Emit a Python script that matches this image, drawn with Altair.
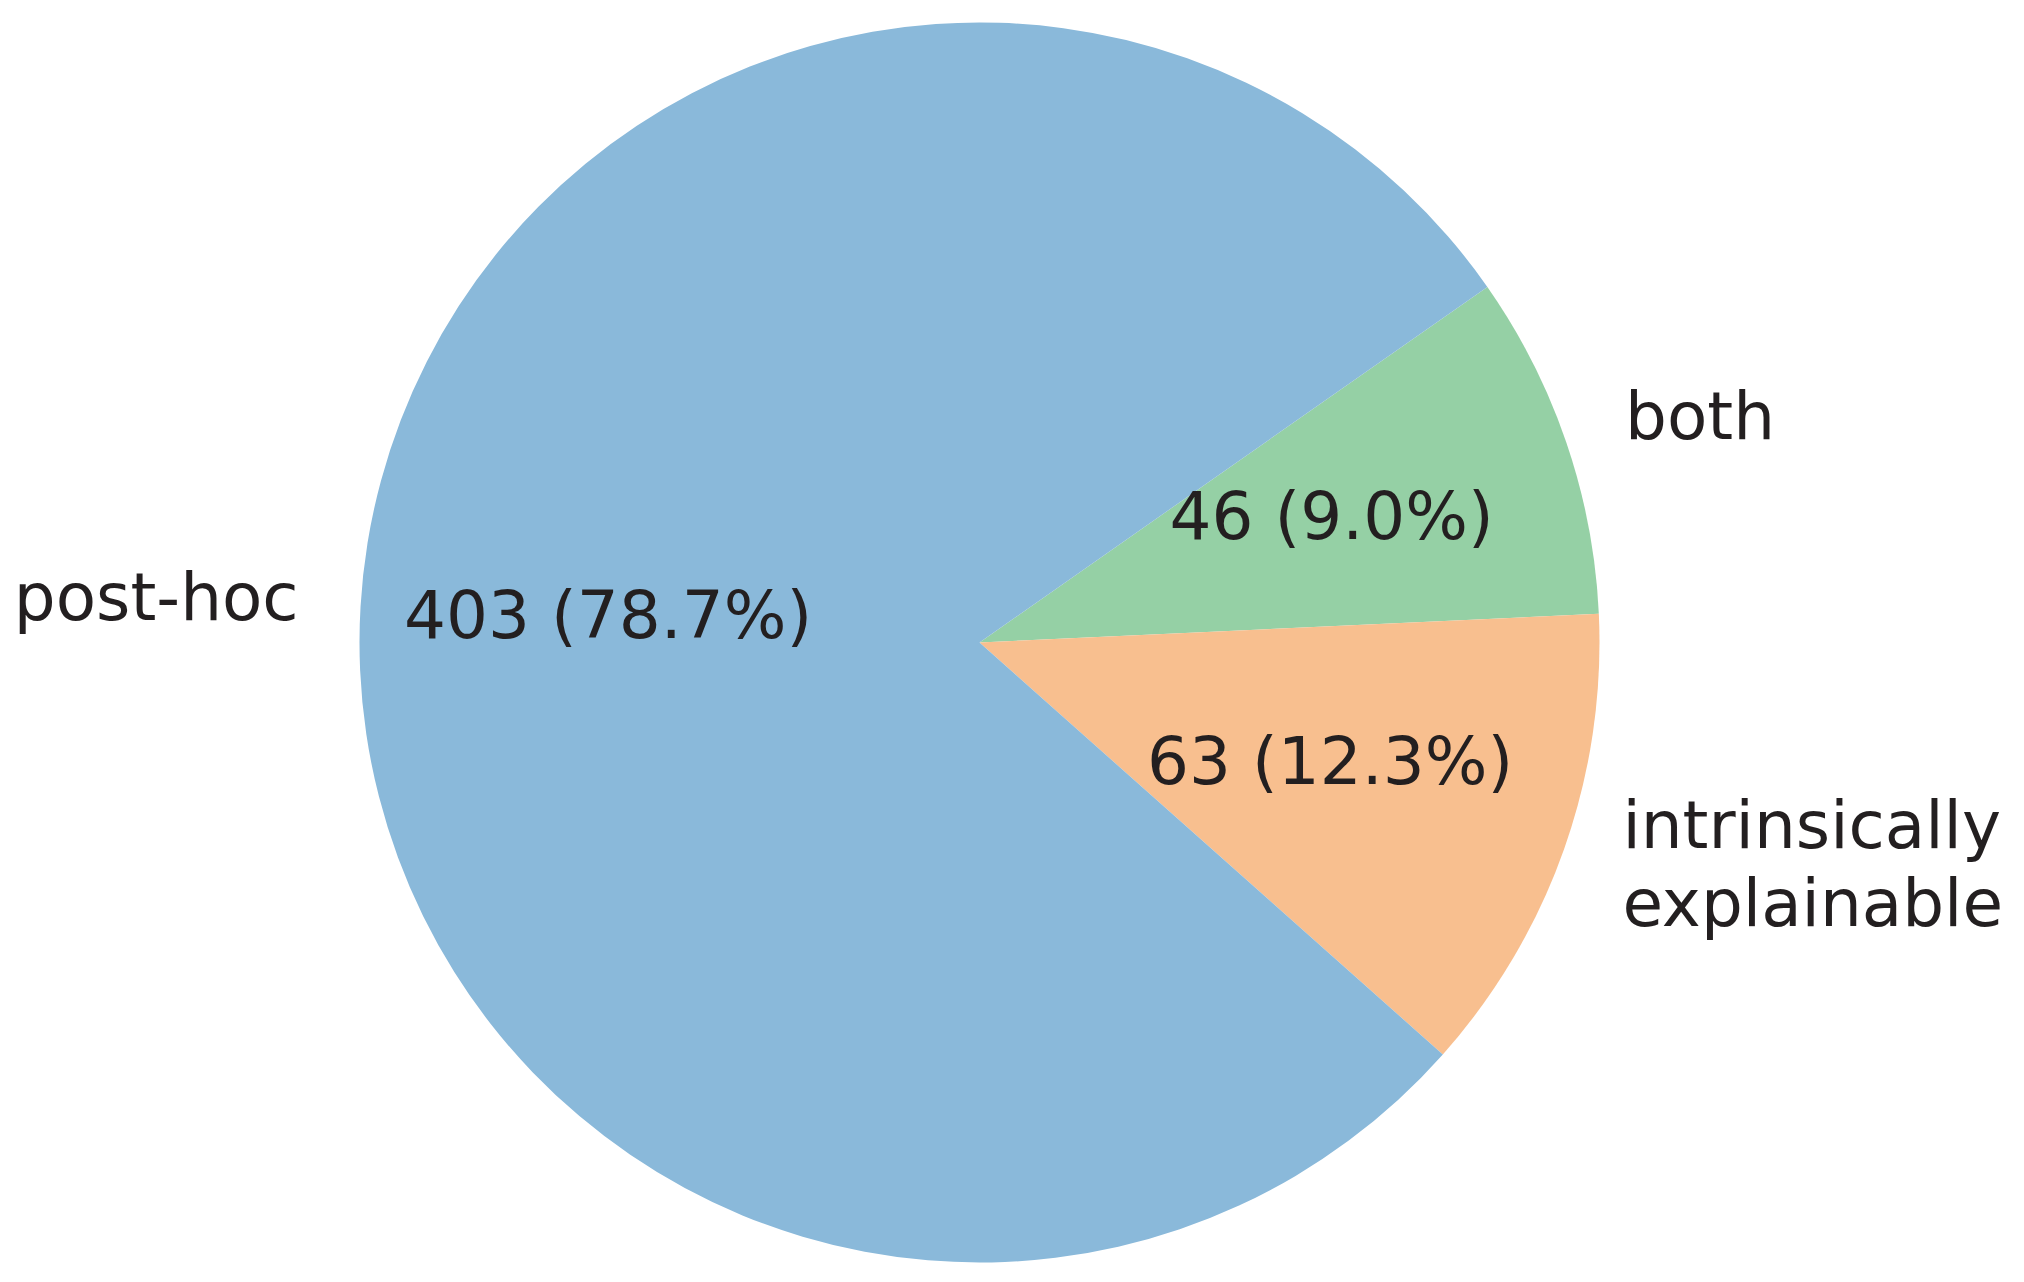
import math
import altair as alt
import pandas as pd

categories = ["both", "intrinsically\nexplainable", "post-hoc"]
counts = [46, 63, 403]
colors = ["#95d0a5", "#f8bf8f", "#8ab9da"]
side = ["right", "right", "left"]

total = sum(counts)
df = pd.DataFrame({
    "idx": list(range(len(categories))),
    "category": categories,
    "count": counts,
    "side": side,
})
df["pct_label"] = [f"{c} ({100 * c / total:.1f}%)" for c in counts]
df["multi"] = ["\n" in c for c in categories]

START = math.radians(55.0)
R = 620
LH = 78
theta_scale = alt.Scale(domain=[0, total], range=[START, START + 2 * math.pi])
FONT = "DejaVu Sans"
FS = 66
TXT = "#231f20"

base = alt.Chart(df).transform_stack(
    stack="count", groupby=[], as_=["s0", "s1"], sort=[alt.SortField("idx", order="ascending")]
).transform_calculate(mid="(datum.s0 + datum.s1) / 2")

arcs = base.mark_arc(outerRadius=R, stroke=None).encode(
    theta=alt.Theta("s0:Q", scale=theta_scale),
    theta2="s1:Q",
    color=alt.Color("category:N", scale=alt.Scale(domain=categories, range=colors), legend=None),
)

inner = base.mark_text(radius=0.6 * R, font=FONT, fontSize=FS, color=TXT,
                       align="center", baseline="middle", dy=-3).encode(
    theta=alt.Theta("mid:Q", scale=theta_scale),
    text="pct_label:N",
)


def outer(side_value, multi_value, align):
    return base.transform_filter(
        (alt.datum.side == side_value) & (alt.datum.multi == multi_value)
    ).mark_text(
        radius=1.1 * R, font=FONT, fontSize=FS, color=TXT, align=align,
        baseline="middle", lineBreak="\n", lineHeight=LH,
        dy=-3 - (LH / 2 if multi_value else 0),
    ).encode(
        theta=alt.Theta("mid:Q", scale=theta_scale),
        text="category:N",
    )


chart = alt.layer(
    arcs, inner,
    outer("right", False, "left"),
    outer("right", True, "left"),
    outer("left", False, "right"),
).properties(
    width=1943, height=1269, padding=0
).configure_view(stroke=None)

chart.save("out.html", embed_options={"renderer": "svg", "actions": False})
